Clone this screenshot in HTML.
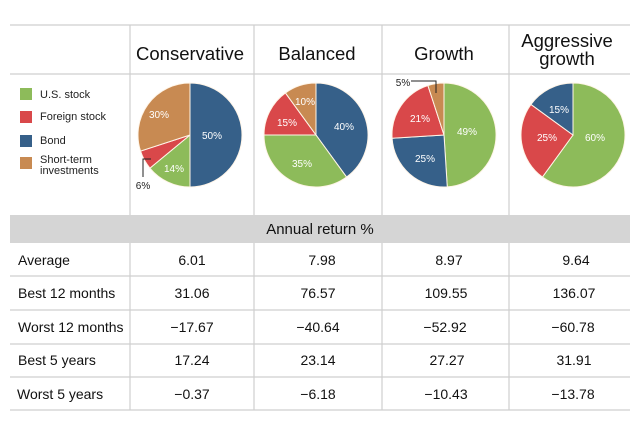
<!DOCTYPE html>
<html><head><meta charset="utf-8"><style>
body{margin:0;background:#fff;}
svg{display:block;font-family:"Liberation Sans",sans-serif;}
</style></head><body>
<svg width="640" height="422" viewBox="0 0 640 422">
<rect width="640" height="422" fill="#fff"/>
<g stroke="#cfcfcf" stroke-width="1.2" fill="none">
<line x1="10" y1="25" x2="630" y2="25"/>
<line x1="10" y1="74" x2="630" y2="74"/>
<line x1="130" y1="25" x2="130" y2="410"/>
<line x1="254" y1="25" x2="254" y2="410"/>
<line x1="382" y1="25" x2="382" y2="410"/>
<line x1="509" y1="25" x2="509" y2="410"/>
<line x1="10" y1="276" x2="630" y2="276"/>
<line x1="10" y1="310" x2="630" y2="310"/>
<line x1="10" y1="344" x2="630" y2="344"/>
<line x1="10" y1="377" x2="630" y2="377"/>
<line x1="10" y1="410" x2="630" y2="410"/>
</g>
<rect x="10" y="215" width="620" height="28" fill="#d5d5d5"/>
<text x="320" y="234" font-size="15" text-anchor="middle" fill="#111">Annual return %</text>
<g font-size="18.5" fill="#111" text-anchor="middle">
<text x="190" y="60">Conservative</text>
<text x="317" y="60">Balanced</text>
<text x="444" y="60">Growth</text>
<text x="567" y="47">Aggressive</text>
<text x="567" y="65">growth</text>
</g>
<g font-size="11" fill="#222">
<rect x="20" y="88" width="12" height="12" fill="#8dbb5a"/><text x="40" y="98">U.S. stock</text>
<rect x="20" y="111" width="12" height="12" fill="#d9484a"/><text x="40" y="120">Foreign stock</text>
<rect x="20" y="135" width="12" height="12" fill="#366089"/><text x="40" y="144">Bond</text>
<rect x="20" y="157" width="12" height="12" fill="#c88a52"/><text x="40" y="163">Short-term</text><text x="40" y="174">investments</text>
</g>
<g stroke="#fff5e8" stroke-width="1">
<g transform="translate(190,135)">
<path d="M0,0L0,-52A52,52 0 0 1 0,52Z" fill="#366089"/>
<path d="M0,0L0,52A52,52 0 0 1 -40.07,33.14Z" fill="#8dbb5a"/>
<path d="M0,0L-40.07,33.14A52,52 0 0 1 -49.46,16.07Z" fill="#d9484a"/>
<path d="M0,0L-49.46,16.07A52,52 0 0 1 0,-52Z" fill="#c88a52"/>
</g>
<g transform="translate(316,135)">
<path d="M0,0L0,-52A52,52 0 0 1 30.57,42.07Z" fill="#366089"/>
<path d="M0,0L30.57,42.07A52,52 0 0 1 -52,0Z" fill="#8dbb5a"/>
<path d="M0,0L-52,0A52,52 0 0 1 -30.57,-42.07Z" fill="#d9484a"/>
<path d="M0,0L-30.57,-42.07A52,52 0 0 1 0,-52Z" fill="#c88a52"/>
</g>
<g transform="translate(444,135)">
<path d="M0,0L0,-52A52,52 0 0 1 3.27,51.9Z" fill="#8dbb5a"/>
<path d="M0,0L3.27,51.9A52,52 0 0 1 -51.9,3.27Z" fill="#366089"/>
<path d="M0,0L-51.9,3.27A52,52 0 0 1 -16.07,-49.46Z" fill="#d9484a"/>
<path d="M0,0L-16.07,-49.46A52,52 0 0 1 0,-52Z" fill="#c88a52"/>
</g>
<g transform="translate(573,135)">
<path d="M0,0L0,-52A52,52 0 1 1 -30.57,42.07Z" fill="#8dbb5a"/>
<path d="M0,0L-30.57,42.07A52,52 0 0 1 -42.07,-30.57Z" fill="#d9484a"/>
<path d="M0,0L-42.07,-30.57A52,52 0 0 1 0,-52Z" fill="#366089"/>
</g>
</g>
<g font-size="10" fill="#fff" text-anchor="middle">
<text x="212" y="139">50%</text><text x="174" y="172">14%</text><text x="159" y="118">30%</text>
<text x="344" y="130">40%</text><text x="302" y="167">35%</text><text x="287" y="126">15%</text><text x="305" y="105">10%</text>
<text x="467" y="135">49%</text><text x="425" y="162">25%</text><text x="420" y="122">21%</text>
<text x="595" y="141">60%</text><text x="547" y="141">25%</text><text x="559" y="113">15%</text>
</g>
<g font-size="10" fill="#222" text-anchor="middle">
<text x="143" y="189">6%</text><text x="403" y="86">5%</text>
</g>
<g stroke="#222" stroke-width="1" fill="none">
<polyline points="151,159 143,159 143,177"/>
<polyline points="411,81 436,81 436,93"/>
</g>
<g font-size="14" fill="#111">
<text x="18" y="265">Average</text>
<text x="18" y="298">Best 12 months</text>
<text x="18" y="332">Worst 12 months</text>
<text x="18" y="365">Best 5 years</text>
<text x="17" y="399">Worst 5 years</text>
</g>
<g font-size="14" fill="#111" text-anchor="middle">
<text x="192" y="265">6.01</text><text x="322" y="265">7.98</text><text x="449" y="265">8.97</text><text x="576" y="265">9.64</text>
<text x="192" y="298">31.06</text><text x="318" y="298">76.57</text><text x="446" y="298">109.55</text><text x="574" y="298">136.07</text>
<text x="192" y="332">−17.67</text><text x="318" y="332">−40.64</text><text x="445" y="332">−52.92</text><text x="573" y="332">−60.78</text>
<text x="192" y="365">17.24</text><text x="318" y="365">23.14</text><text x="447" y="365">27.27</text><text x="574" y="365">31.91</text>
<text x="192" y="399">−0.37</text><text x="318" y="399">−6.18</text><text x="446" y="399">−10.43</text><text x="573" y="399">−13.78</text>
</g>
</svg>
</body></html>
